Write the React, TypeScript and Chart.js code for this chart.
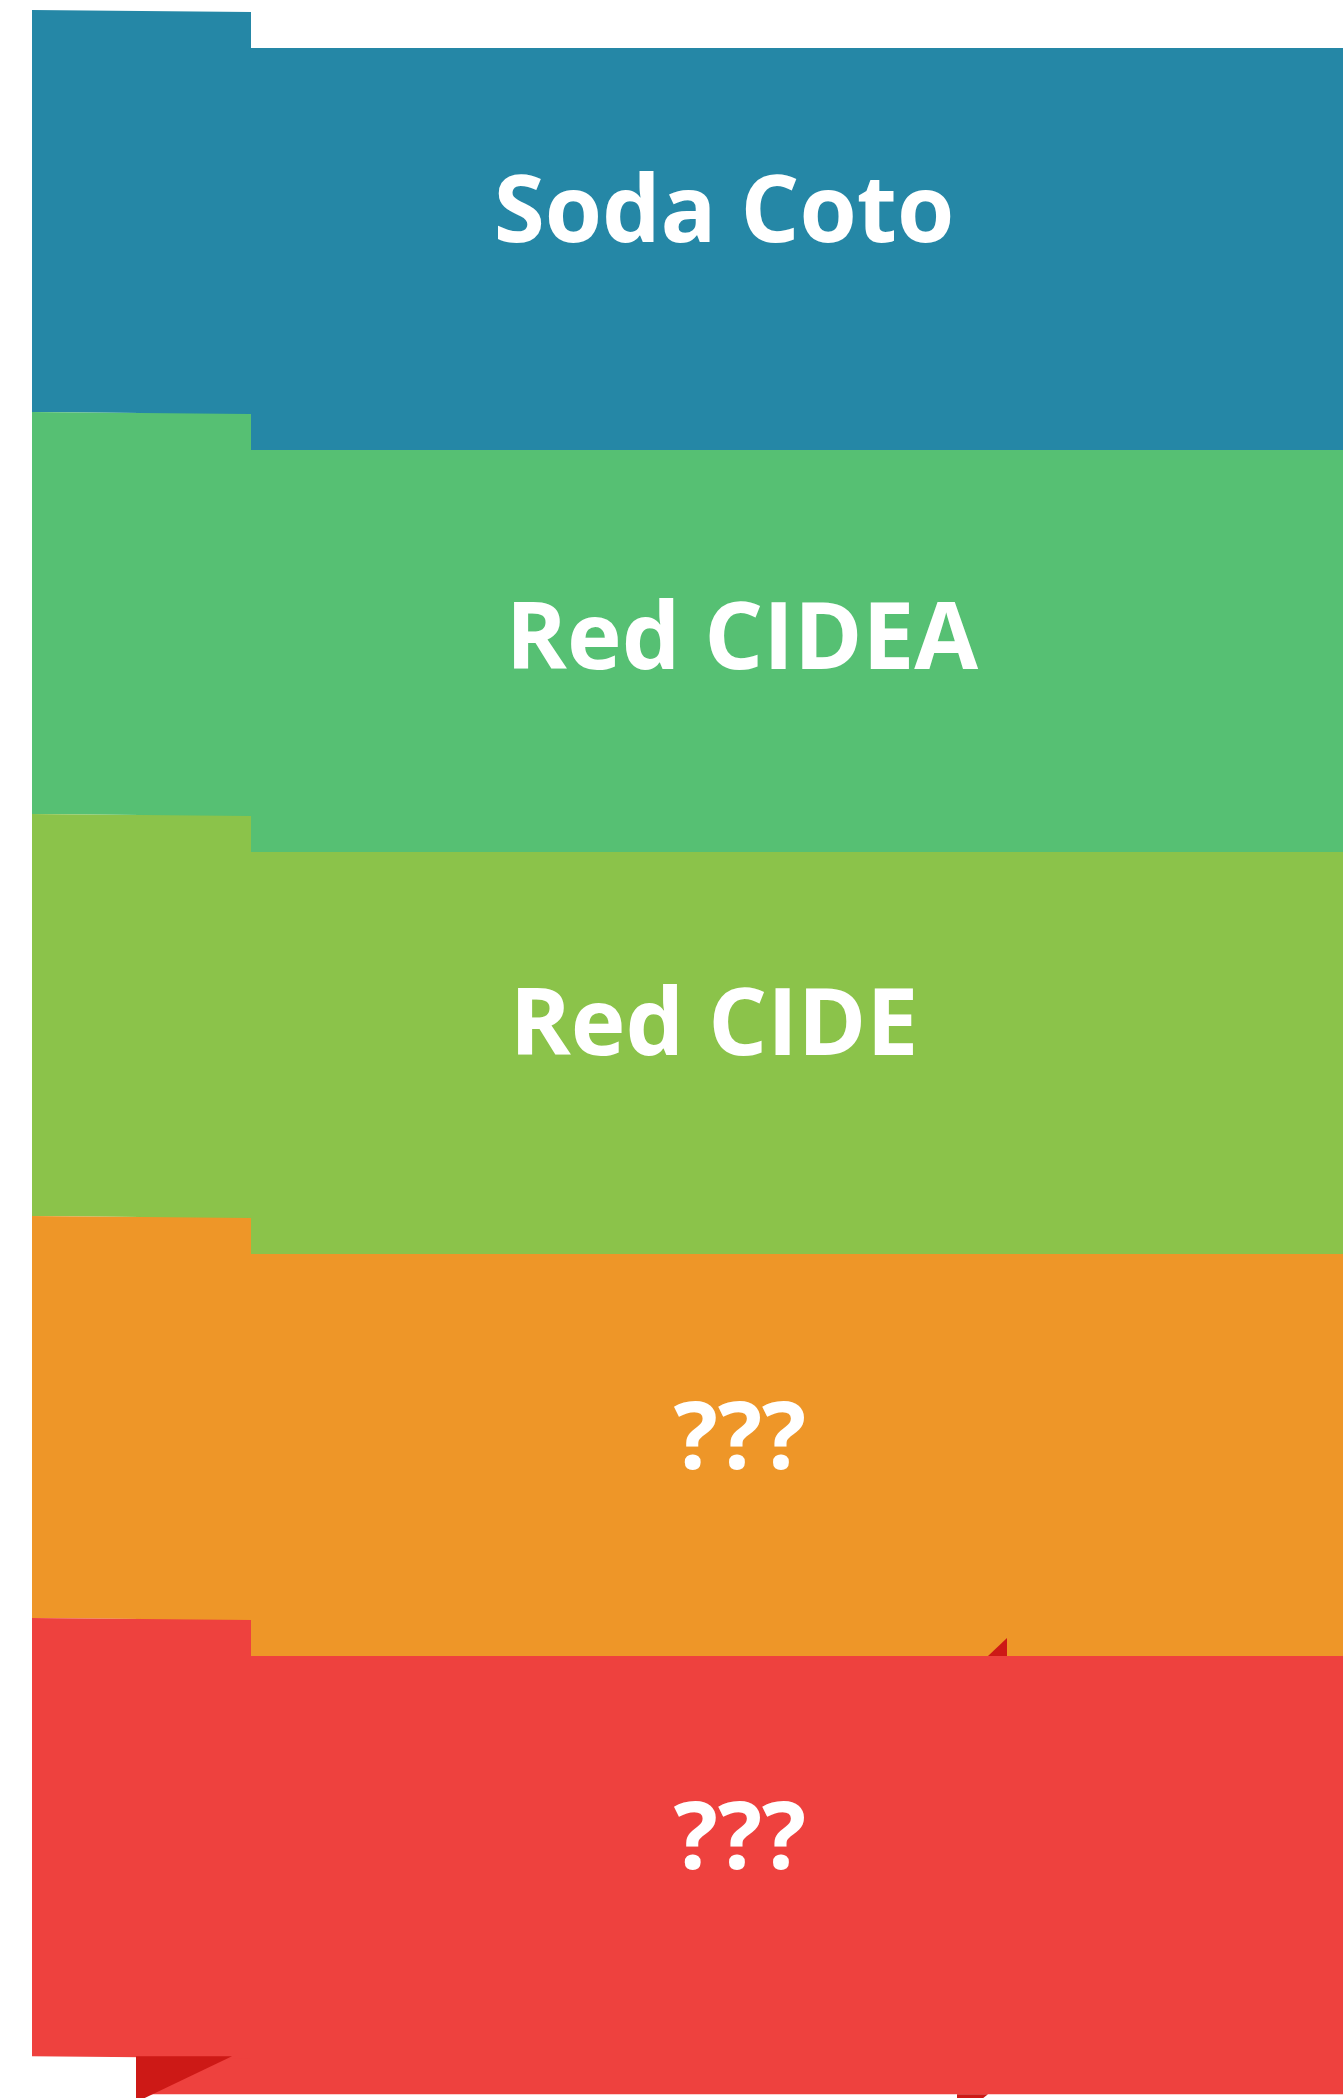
import React, { useEffect, useRef } from 'react';
import { Chart, registerables } from 'chart.js';

Chart.register(...registerables);

// ---- data ----
const categories = ['Soda Coto', 'Red CIDEA', 'Red CIDE', '???', '???'];
const bandValues = [100, 100, 100, 100, 109];
const bandColors = ['#2587a6', '#56c073', '#8bc34a', '#ee9628', '#ee413e'];
const foldColor = '#cd1916';

// ---- layout (canvas pixels) ----
const W = 1343;
const H = 2098;
const PX_PER_UNIT = 4.02;
const TOP_PX = 48;
const u = (px: number) => px / PX_PER_UNIT;
const Y_MIN = -u(TOP_PX);
const Y_MAX = u(H - TOP_PX);
const PANEL_X0 = 32;
const PANEL_X1 = 251;
const PANEL_LIFT = u(38);
const PANEL_SLOPE = u(2);
const MAIN_X0 = 136;
const LABEL_CENTER_X = [724, 742, 714, 740, 740];
const LABEL_BASELINE_FROM_TOP = [194, 219, 203, 215, 213];
const LABEL_FONT = 'bold 94px "Open Sans", "Noto Sans", sans-serif';
const LABEL_SCALE_X = 0.985;

const cum: number[] = [0];
bandValues.forEach((v, i) => cum.push(cum[i] + v));

type Pt = { x: number; y: number };

function buildDatasets() {
  const sets: any[] = [];
  const add = (pts: Pt[], color: string) => {
    sets.push({
      data: pts,
      backgroundColor: color,
      borderColor: 'rgba(0,0,0,0)',
      borderWidth: 0,
      pointRadius: 0,
      fill: 'shape',
      tension: 0,
    });
  };
  // main bands
  bandValues.forEach((_, i) => {
    add(
      [
        { x: MAIN_X0, y: cum[i] },
        { x: W + 10, y: cum[i] },
        { x: W + 10, y: cum[i + 1] },
        { x: MAIN_X0, y: cum[i + 1] },
      ],
      bandColors[i]
    );
  });
  // left panels
  bandValues.forEach((_, i) => {
    add(
      [
        { x: PANEL_X0, y: cum[i] - PANEL_LIFT },
        { x: PANEL_X1, y: cum[i] - PANEL_LIFT + PANEL_SLOPE },
        { x: PANEL_X1, y: cum[i + 1] - PANEL_LIFT + PANEL_SLOPE },
        { x: PANEL_X0, y: cum[i + 1] - PANEL_LIFT },
      ],
      bandColors[i]
    );
  });
  const last = cum.length - 1;
  // folds
  add(
    [
      { x: MAIN_X0, y: cum[last] - PANEL_LIFT },
      { x: 232, y: cum[last] - PANEL_LIFT },
      { x: MAIN_X0, y: cum[last] + u(8) },
    ],
    foldColor
  );
  add(
    [
      { x: 988, y: cum[last - 1] },
      { x: 1007, y: cum[last - 1] },
      { x: 1007, y: cum[last - 1] - u(18) },
    ],
    foldColor
  );
  add(
    [
      { x: 957, y: cum[last] },
      { x: 988, y: cum[last] },
      { x: 978, y: cum[last] + u(8) },
      { x: 957, y: cum[last] + u(8) },
    ],
    foldColor
  );
  // painter order: first added at bottom
  sets.forEach((s, i) => (s.order = sets.length - i));
  return sets;
}

const labelPlugin = {
  id: 'bandLabels',
  afterDatasetsDraw(chart: any) {
    const { ctx, scales } = chart;
    categories.forEach((label, i) => {
      const x = scales.x.getPixelForValue(LABEL_CENTER_X[i]);
      const y = scales.y.getPixelForValue(cum[i] + u(LABEL_BASELINE_FROM_TOP[i]));
      ctx.save();
      ctx.fillStyle = '#ffffff';
      ctx.font = LABEL_FONT;
      ctx.textAlign = 'center';
      ctx.textBaseline = 'alphabetic';
      ctx.translate(x, y);
      ctx.scale(LABEL_SCALE_X, 1);
      ctx.fillText(label, 0, 0);
      ctx.restore();
    });
  },
};

export default function App() {
  const ref = useRef<HTMLCanvasElement | null>(null);
  useEffect(() => {
    document.body.style.margin = '0';
    document.body.style.overflow = 'hidden';
    if (!ref.current) return;
    const chart = new Chart(ref.current, {
      type: 'line',
      data: { datasets: buildDatasets() },
      options: {
        animation: false,
        responsive: false,
        events: [],
        layout: { padding: 0 },
        plugins: { legend: { display: false }, tooltip: { enabled: false } },
        scales: {
          x: { type: 'linear', min: 0, max: W, display: false },
          y: { type: 'linear', min: Y_MIN, max: Y_MAX, reverse: true, display: false },
        },
      },
      plugins: [labelPlugin],
    });
    return () => chart.destroy();
  }, []);
  return (
    <div style={{ width: W, height: H, background: '#ffffff' }}>
      <canvas ref={ref} width={W} height={H} style={{ display: 'block', width: W, height: H }} />
    </div>
  );
}
